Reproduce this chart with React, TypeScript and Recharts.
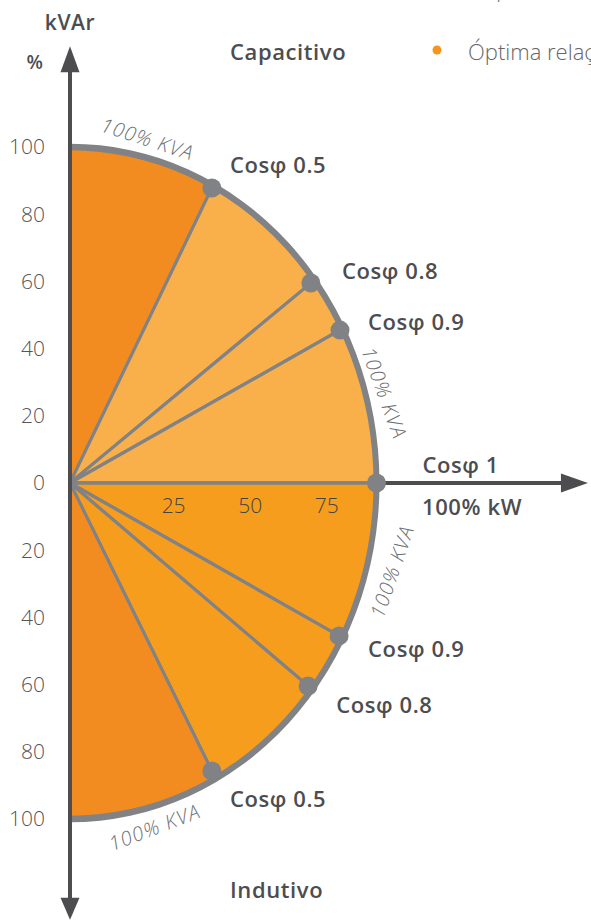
import React from 'react';
import { PieChart, Pie, Cell, ScatterChart, Scatter, XAxis, YAxis, ReferenceLine } from 'recharts';

// ---- data ----
const cosLabels = ['Cosφ 0.5', 'Cosφ 0.8', 'Cosφ 0.9', 'Cosφ 1'];
const upperKW = [46.3, 78.6, 88.1, 100];
const upperKVAr = [87.8, 59.5, 45.5, 0];
const lowerKW = [46.3, 77.7, 87.8];
const lowerKVAr = [-85.7, -60.4, -45.5];
const yTicks = [-100, -80, -60, -40, -20, 0, 20, 40, 60, 80, 100];
const xTicks = [25, 50, 75];
const kvaLabels = [
  { x: 25.3, y: 102.4, rot: 18 },
  { x: 102.5, y: 26.8, rot: 70 },
  { x: 105.1, y: -26.3, rot: -71 },
  { x: 27.6, y: -102.5, rot: -21 },
];
const arrowTips = [
  { x: 0, y: 130, dir: 'up' },
  { x: 0, y: -130, dir: 'down' },
  { x: 169, y: 0, dir: 'right' },
];

// ---- styles ----
const DARK = '#F38C20';
const LIGHT = '#F9B04A';
const MID = '#F69D1E';
const GRAY = '#808285';
const AXIS = '#4D4D4F';
const FONT = '"Open Sans", "DejaVu Sans", sans-serif';
const R = 306.5; // px for 100 kW
const SY = 336 / 306.5;
const CX = 70;
const CY = 483;

// label offsets in px (relative to dot)
const upperOffsets = [
  { dx: 18, dy: -23 },
  { dx: 31, dy: -12 },
  { dx: 28, dy: -8 },
  { dx: 46, dy: -18 },
];
const lowerOffsets = [
  { dx: 18, dy: 28 },
  { dx: 28, dy: 19 },
  { dx: 29, dy: 13 },
];

// ---- derived ----
const angle = (x: number, y: number) => (Math.atan2(y, x) * 180) / Math.PI;
const upperBounds = [90, ...upperKW.map((x, i) => angle(x, upperKVAr[i]))];
const upperSpans = upperBounds.slice(1).map((b, i) => upperBounds[i] - b);
const lowerBounds = [0, ...lowerKW.slice().reverse().map((x, i, arr) => -angle(x, lowerKVAr[arr.length - 1 - i]) * -1)];
// lower bounds as negative angles going clockwise from 0 to -90
const lowerAngles = [0, ...lowerKW.map((x, i) => angle(x, lowerKVAr[i])).reverse(), -90];
const lowerSpans = lowerAngles.slice(1).map((b, i) => lowerAngles[i] - b);
void lowerBounds;
const sectors = [
  ...upperSpans.map((s, i) => ({ span: s, fill: i === 0 ? DARK : LIGHT })),
  ...lowerSpans.map((s, i, arr) => ({ span: s, fill: i === arr.length - 1 ? DARK : MID })),
];

const points = [
  ...upperKW.map((x, i) => ({ x, y: upperKVAr[i], label: cosLabels[i], off: upperOffsets[i] })),
  ...lowerKW.map((x, i) => ({ x, y: lowerKVAr[i], label: cosLabels[i], off: lowerOffsets[i] })),
];

const xTickData = xTicks.map((v) => ({ x: v, y: 0, label: String(v) }));

const DotShape = (p: any) => <circle cx={p.cx} cy={p.cy} r={9.5} fill={GRAY} />;

const LabelShape = (p: any) => {
  const o = p.payload.off;
  return (
    <text
      x={p.cx + o.dx}
      y={p.cy + o.dy}
      dy="0.36em"
      fill={AXIS}
      fontFamily={FONT}
      fontWeight={600}
      fontSize={22}
      letterSpacing={0.6}
    >
      {p.payload.label}
    </text>
  );
};

const XTickShape = (p: any) => (
  <text
    x={p.cx + 27}
    y={p.cy + 22}
    dy="0.36em"
    textAnchor="middle"
    fill="#444"
    fontFamily={FONT}
    fontWeight={300}
    fontSize={21}
  >
    {p.payload.label}
  </text>
);

const KvaShape = (p: any) => (
  <text
    x={p.cx}
    y={p.cy}
    dy="0.36em"
    textAnchor="middle"
    transform={`rotate(${p.payload.rot} ${p.cx} ${p.cy})`}
    fill="#6D6E71"
    fontFamily={FONT}
    fontStyle="italic"
    fontWeight={300}
    fontSize={20}
    letterSpacing={1.2}
  >
    100% KVA
  </text>
);

const ArrowShape = (p: any) => {
  const { cx, cy } = p;
  const d = p.payload.dir;
  let pts = '';
  if (d === 'up') pts = `${cx},${cy} ${cx - 9.5},${cy + 26} ${cx + 9.5},${cy + 26}`;
  else if (d === 'down') pts = `${cx},${cy} ${cx - 9.5},${cy - 22} ${cx + 9.5},${cy - 22}`;
  else pts = `${cx},${cy} ${cx - 27},${cy - 9.5} ${cx - 27},${cy + 9.5}`;
  return <polygon points={pts} fill={AXIS} />;
};

export default function App() {
  return (
    <div style={{ position: 'absolute', left: 0, top: 0, width: 591, height: 921, background: '#fff', overflow: 'hidden' }}>
      <div
        style={{
          position: 'absolute',
          left: 0,
          top: 0,
          width: 591,
          height: 921,
          transform: `scaleY(${SY})`,
          transformOrigin: `${CX}px ${CY}px`,
        }}
      >
        <PieChart width={591} height={921} margin={{ top: 0, left: 0, right: 0, bottom: 0 }}>
          <Pie
            data={sectors}
            dataKey="span"
            cx={CX}
            cy={CY}
            innerRadius={0}
            outerRadius={R}
            startAngle={90}
            endAngle={-90}
            stroke={GRAY}
            strokeWidth={3}
            isAnimationActive={false}
          >
            {sectors.map((s, i) => (
              <Cell key={i} fill={s.fill} stroke={GRAY} strokeWidth={3} />
            ))}
          </Pie>
          <Pie
            data={[{ v: 1 }]}
            dataKey="v"
            cx={CX}
            cy={CY}
            innerRadius={R - 3}
            outerRadius={R + 3}
            startAngle={90}
            endAngle={-90}
            fill={GRAY}
            stroke="none"
            isAnimationActive={false}
          />
        </PieChart>
      </div>
      <div style={{ position: 'absolute', left: 0, top: 0 }}>
        <ScatterChart width={591} height={921} margin={{ top: 46.2, right: 0, bottom: 1.2, left: 0 }}>
          <XAxis type="number" dataKey="x" domain={[0, 170]} hide />
          <YAxis
            type="number"
            dataKey="y"
            domain={[-130, 130]}
            ticks={yTicks}
            interval={0}
            width={70}
            axisLine={false}
            tickLine={false}
            tickSize={0}
            tickMargin={25}
            tickFormatter={(v: number) => String(Math.abs(v))}
            tick={{ fill: '#555', fontSize: 21, fontFamily: FONT, fontWeight: 300 }}
          />
          <ReferenceLine segment={[{ x: 0, y: -126 }, { x: 0, y: 126 }]} stroke={AXIS} strokeWidth={4} />
          <ReferenceLine segment={[{ x: 102, y: 0 }, { x: 162, y: 0 }]} stroke={AXIS} strokeWidth={4} />
          <Scatter data={arrowTips} shape={ArrowShape} isAnimationActive={false} />
          <Scatter data={points} shape={DotShape} isAnimationActive={false} />
          <Scatter data={points} shape={LabelShape} isAnimationActive={false} />
          <Scatter data={xTickData} shape={XTickShape} isAnimationActive={false} />
          <Scatter data={kvaLabels} shape={KvaShape} isAnimationActive={false} />
        </ScatterChart>
      </div>
      <svg width={591} height={921} style={{ position: 'absolute', left: 0, top: 0, pointerEvents: 'none' }}>
        <g fontFamily={FONT} fill={AXIS} fontWeight={600} letterSpacing={0.6}>
          <text x={70} y={22} dy="0.36em" textAnchor="middle" fontSize={21}>kVAr</text>
          <text x={35} y={62} dy="0.36em" textAnchor="middle" fontSize={19}>%</text>
          <text x={230} y={52} dy="0.36em" fontSize={22}>Capacitivo</text>
          <text x={230} y={890} dy="0.36em" fontSize={22}>Indutivo</text>
          <text x={422} y={507} dy="0.36em" fontSize={22}>100% kW</text>
        </g>
        <circle cx={437} cy={50} r={4.5} fill="#F7941D" />
        <text x={468} y={52} dy="0.36em" fontFamily={FONT} fontWeight={300} fontSize={22} fill="#666">Óptima relação</text>
        <text x={472} y={-3} fontFamily={FONT} fontWeight={300} fontSize={21} fill="#666">Capacitiva</text>
      </svg>
    </div>
  );
}
